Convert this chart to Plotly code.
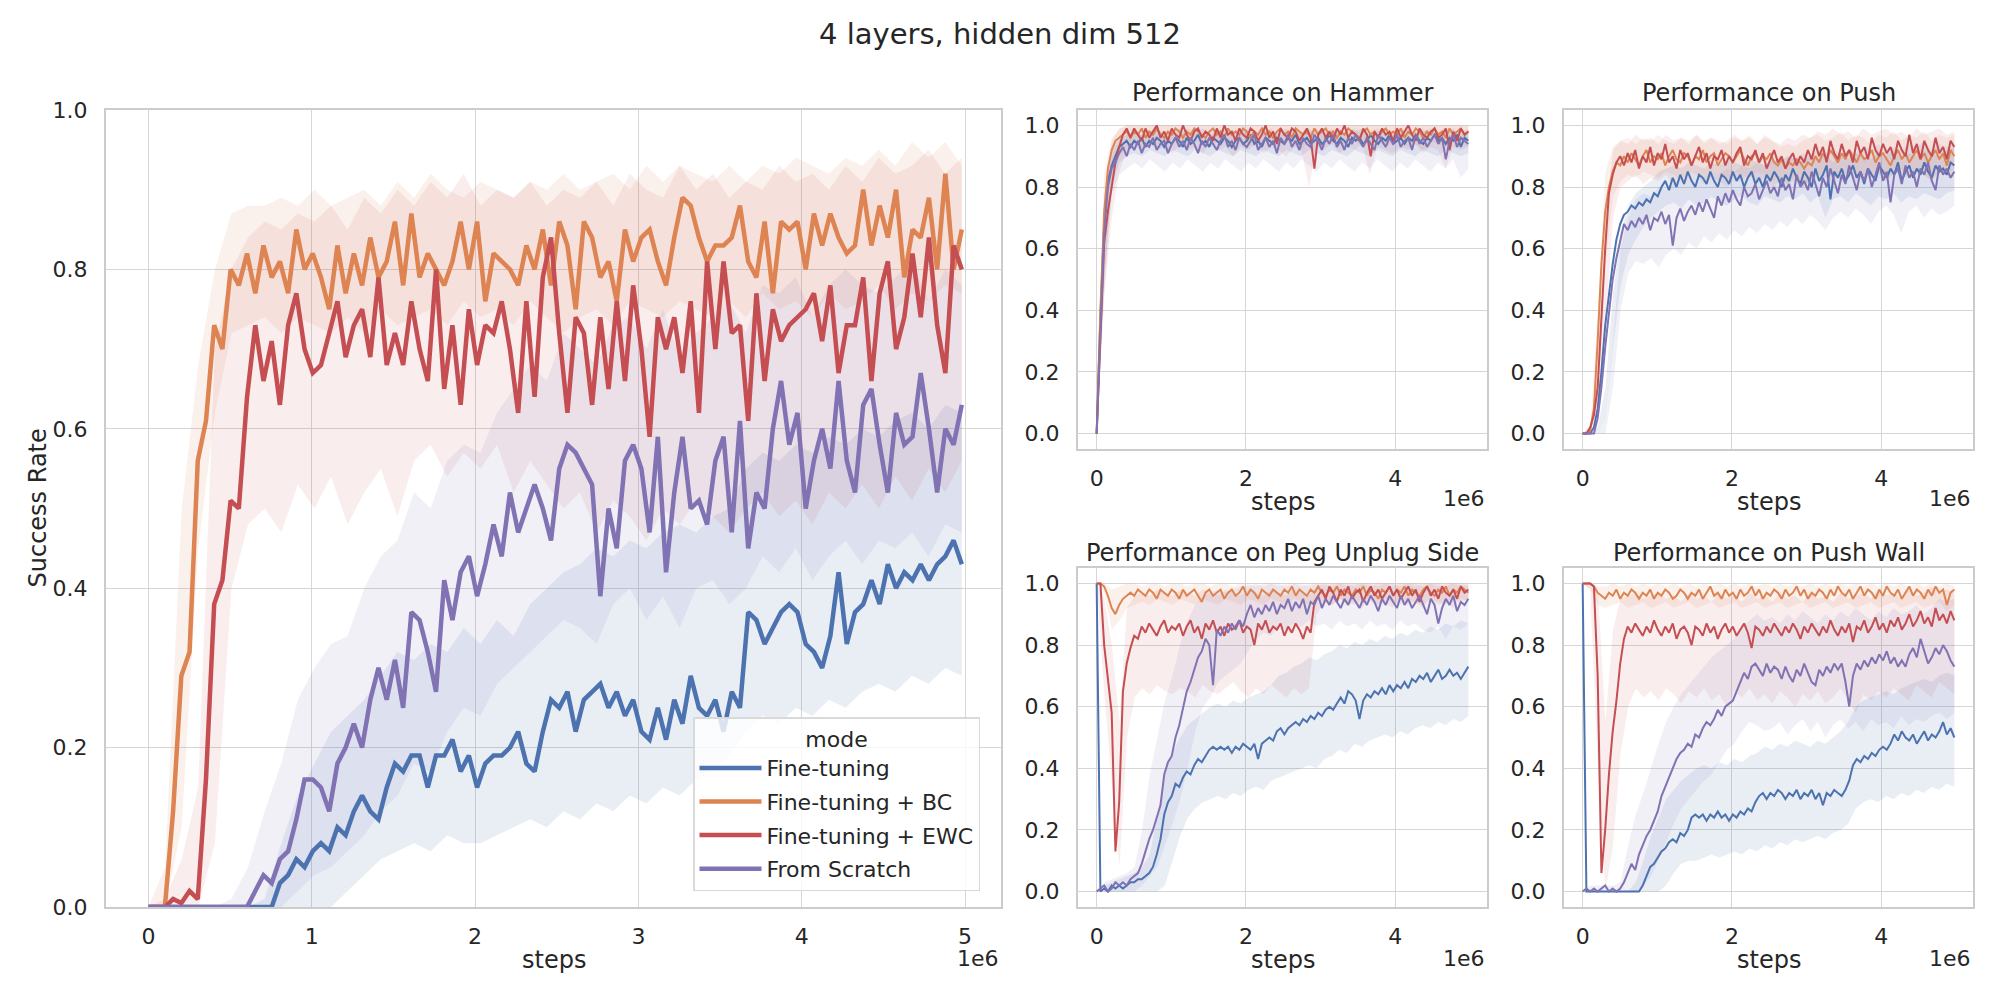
import numpy as np
import plotly.graph_objects as go

# evaluation steps (lines) and coarser grid for the confidence bands
steps = np.linspace(0, 4.98e6, 100)
band_steps = np.linspace(0, 4.98e6, 50)

modes = ["Fine-tuning", "Fine-tuning + BC", "Fine-tuning + EWC", "From Scratch"]
colors = ["#4C72B0", "#DD8452", "#C44E52", "#8172B3"]
band_colors = ["rgba(76,114,176,0.12)", "rgba(221,132,82,0.11)",
               "rgba(196,78,82,0.10)", "rgba(129,114,179,0.11)"]

# ---- main panel (all tasks) ----
all_ft = [0.00,0.00,0.00,0.00,0.00,0.00,0.00,0.00,0.00,0.00,
          0.00,0.00,0.00,0.00,0.00,0.00,0.03,0.04,0.06,0.05,
          0.07,0.08,0.07,0.10,0.09,0.12,0.14,0.12,0.11,0.15,
          0.18,0.17,0.19,0.19,0.15,0.19,0.19,0.21,0.17,0.19,
          0.15,0.18,0.19,0.19,0.20,0.22,0.18,0.17,0.22,0.26,
          0.25,0.27,0.22,0.26,0.27,0.28,0.25,0.27,0.24,0.26,
          0.22,0.21,0.25,0.21,0.26,0.23,0.29,0.25,0.24,0.26,
          0.22,0.27,0.25,0.37,0.36,0.33,0.35,0.37,0.38,0.37,
          0.33,0.32,0.30,0.34,0.42,0.33,0.37,0.38,0.41,0.38,
          0.43,0.40,0.42,0.41,0.43,0.41,0.43,0.44,0.46,0.43]
all_bc = [0.00,0.00,0.00,0.12,0.29,0.32,0.56,0.61,0.73,0.70,
          0.80,0.78,0.82,0.77,0.83,0.79,0.81,0.77,0.85,0.80,
          0.82,0.79,0.75,0.83,0.77,0.82,0.78,0.84,0.79,0.81,
          0.86,0.78,0.87,0.79,0.82,0.80,0.78,0.81,0.86,0.80,
          0.86,0.76,0.82,0.81,0.80,0.78,0.83,0.80,0.85,0.78,
          0.86,0.83,0.75,0.86,0.84,0.79,0.81,0.76,0.85,0.81,
          0.84,0.85,0.81,0.78,0.84,0.89,0.88,0.84,0.81,0.83,
          0.83,0.84,0.88,0.81,0.79,0.86,0.77,0.86,0.85,0.86,
          0.80,0.87,0.83,0.87,0.84,0.82,0.83,0.90,0.83,0.88,
          0.84,0.90,0.79,0.85,0.84,0.89,0.80,0.92,0.80,0.85]
all_ewc = [0.00,0.00,0.00,0.01,0.005,0.02,0.01,0.16,0.38,0.41,
           0.51,0.50,0.64,0.73,0.66,0.71,0.63,0.73,0.77,0.70,
           0.67,0.68,0.72,0.76,0.69,0.73,0.75,0.69,0.79,0.68,
           0.72,0.68,0.76,0.70,0.66,0.80,0.65,0.73,0.63,0.75,
           0.68,0.73,0.72,0.76,0.70,0.62,0.76,0.64,0.79,0.84,
           0.72,0.62,0.74,0.72,0.63,0.74,0.65,0.76,0.66,0.78,
           0.70,0.59,0.74,0.70,0.74,0.67,0.76,0.62,0.81,0.70,
           0.81,0.72,0.73,0.61,0.77,0.66,0.75,0.71,0.73,0.74,
           0.75,0.77,0.71,0.78,0.67,0.73,0.73,0.79,0.66,0.77,
           0.81,0.70,0.74,0.82,0.74,0.84,0.73,0.67,0.83,0.80]
all_fs = [0.00,0.00,0.00,0.00,0.00,0.00,0.00,0.00,0.00,0.00,
          0.00,0.00,0.00,0.02,0.04,0.03,0.06,0.07,0.11,0.16,
          0.16,0.15,0.12,0.18,0.20,0.23,0.20,0.26,0.30,0.26,
          0.31,0.25,0.37,0.36,0.32,0.27,0.41,0.36,0.42,0.44,
          0.39,0.43,0.48,0.44,0.52,0.47,0.50,0.53,0.50,0.46,
          0.55,0.58,0.57,0.55,0.53,0.39,0.50,0.45,0.56,0.58,
          0.55,0.47,0.59,0.42,0.52,0.59,0.50,0.51,0.48,0.56,
          0.59,0.47,0.61,0.45,0.52,0.50,0.60,0.66,0.58,0.62,
          0.50,0.56,0.60,0.55,0.66,0.56,0.52,0.63,0.65,0.58,
          0.52,0.62,0.58,0.59,0.67,0.60,0.52,0.60,0.58,0.63]

all_ft_lo = [0.00,0.00,0.00,0.00,0.00,0.00,0.00,0.00,0.00,0.00,
             0.00,0.00,0.02,0.04,0.06,0.07,0.08,0.07,0.09,0.08,
             0.08,0.09,0.10,0.11,0.10,0.12,0.11,0.13,0.12,0.14,
             0.13,0.15,0.14,0.16,0.17,0.19,0.22,0.24,0.23,0.25,
             0.24,0.26,0.25,0.27,0.28,0.27,0.29,0.28,0.30,0.29]
all_ft_hi = [0.00,0.00,0.00,0.00,0.00,0.00,0.00,0.01,0.08,0.14,
             0.18,0.22,0.24,0.26,0.29,0.32,0.31,0.33,0.32,0.35,
             0.33,0.36,0.34,0.38,0.40,0.42,0.43,0.45,0.44,0.46,
             0.45,0.47,0.48,0.47,0.49,0.50,0.55,0.57,0.56,0.58,
             0.57,0.59,0.58,0.60,0.59,0.61,0.62,0.60,0.63,0.62]
all_bc_lo = [0.00,0.00,0.10,0.45,0.62,0.72,0.73,0.74,0.72,0.74,
             0.73,0.72,0.74,0.72,0.75,0.73,0.74,0.75,0.73,0.76,
             0.74,0.75,0.73,0.76,0.74,0.72,0.74,0.75,0.73,0.76,
             0.75,0.74,0.76,0.75,0.74,0.76,0.74,0.77,0.75,0.76,
             0.74,0.77,0.75,0.76,0.78,0.75,0.77,0.76,0.78,0.77]
all_bc_hi = [0.00,0.05,0.50,0.68,0.80,0.87,0.88,0.88,0.89,0.88,
             0.90,0.88,0.89,0.90,0.88,0.91,0.89,0.92,0.90,0.89,
             0.91,0.90,0.89,0.91,0.90,0.92,0.90,0.91,0.92,0.90,
             0.93,0.91,0.93,0.92,0.91,0.93,0.91,0.93,0.92,0.94,
             0.93,0.92,0.94,0.93,0.95,0.93,0.96,0.94,0.96,0.93]
all_ewc_lo = [0.00,0.00,0.00,0.00,0.08,0.40,0.48,0.50,0.47,0.53,
              0.50,0.54,0.48,0.52,0.55,0.49,0.56,0.58,0.54,0.57,
              0.55,0.58,0.52,0.56,0.53,0.50,0.52,0.47,0.51,0.49,
              0.46,0.50,0.48,0.51,0.49,0.47,0.50,0.52,0.49,0.51,
              0.48,0.52,0.50,0.53,0.50,0.54,0.51,0.55,0.52,0.56]
all_ewc_hi = [0.00,0.01,0.06,0.15,0.70,0.80,0.84,0.86,0.85,0.87,
              0.86,0.88,0.85,0.89,0.87,0.90,0.88,0.91,0.89,0.92,
              0.88,0.90,0.89,0.91,0.88,0.90,0.89,0.91,0.88,0.92,
              0.90,0.89,0.93,0.90,0.92,0.89,0.91,0.90,0.93,0.91,
              0.92,0.90,0.93,0.91,0.94,0.92,0.93,0.95,0.92,0.94]
all_fs_lo = [0.00,0.00,0.00,0.00,0.00,0.00,0.00,0.00,0.00,0.02,
             0.04,0.05,0.07,0.09,0.12,0.14,0.18,0.17,0.22,0.25,
             0.24,0.28,0.30,0.32,0.34,0.36,0.35,0.33,0.38,0.40,
             0.36,0.39,0.35,0.40,0.41,0.38,0.40,0.44,0.42,0.45,
             0.41,0.44,0.46,0.43,0.46,0.45,0.47,0.44,0.48,0.47]
all_fs_hi = [0.00,0.00,0.00,0.00,0.00,0.01,0.05,0.12,0.18,0.26,
             0.30,0.33,0.34,0.40,0.44,0.46,0.52,0.50,0.56,0.58,
             0.57,0.62,0.65,0.68,0.66,0.72,0.70,0.68,0.73,0.74,
             0.70,0.75,0.69,0.72,0.74,0.76,0.72,0.78,0.77,0.79,
             0.74,0.78,0.80,0.78,0.77,0.79,0.81,0.76,0.80,0.78]

# ---- Hammer ----
ham_ft = [0.00,0.38,0.68,0.82,0.87,0.90,0.93,0.94,0.95,0.93,
          0.95,0.94,0.96,0.93,0.95,0.94,0.96,0.95,0.93,0.95,
          0.94,0.96,0.95,0.93,0.96,0.94,0.95,0.97,0.94,0.95,
          0.93,0.96,0.95,0.94,0.96,0.95,0.93,0.95,0.96,0.94,
          0.95,0.97,0.94,0.95,0.93,0.96,0.95,0.94,0.96,0.95,
          0.94,0.96,0.95,0.97,0.94,0.95,0.96,0.94,0.95,0.96,
          0.94,0.95,0.97,0.95,0.94,0.96,0.95,0.93,0.96,0.95,
          0.96,0.94,0.95,0.97,0.95,0.94,0.96,0.95,0.97,0.94,
          0.95,0.96,0.94,0.96,0.95,0.97,0.95,0.94,0.96,0.95,
          0.97,0.95,0.96,0.94,0.96,0.95,0.97,0.93,0.96,0.95]
ham_bc = [0.00,0.40,0.72,0.86,0.92,0.95,0.96,0.97,0.98,0.96,
          0.98,0.97,0.99,0.96,0.98,0.97,0.99,0.97,0.96,0.98,
          0.97,0.99,0.98,0.96,0.98,0.97,0.99,0.98,0.97,0.96,
          0.98,0.99,0.97,0.98,0.96,0.99,0.97,0.98,0.97,0.99,
          0.98,0.96,0.98,0.97,0.99,0.97,0.98,0.96,0.98,0.99,
          0.97,0.98,0.96,0.99,0.98,0.97,0.98,0.96,0.99,0.97,
          0.98,0.99,0.97,0.98,0.96,0.98,0.97,0.99,0.98,0.97,
          0.96,0.98,0.99,0.97,0.98,0.96,0.98,0.99,0.97,0.98,
          0.97,0.99,0.96,0.98,0.97,0.99,0.98,0.96,0.98,0.97,
          0.99,0.97,0.98,0.96,0.99,0.97,0.98,0.99,0.97,0.98]
ham_ewc = [0.00,0.30,0.62,0.72,0.80,0.88,0.93,0.97,0.99,0.96,
           0.99,0.97,0.95,0.99,0.96,0.98,1.00,0.96,0.98,0.95,
           0.99,0.97,0.96,1.00,0.97,0.95,0.98,0.99,0.96,0.98,
           0.97,0.95,0.99,0.96,1.00,0.97,0.98,0.95,0.99,0.97,
           0.96,0.99,0.98,0.95,0.97,1.00,0.96,0.98,0.94,0.99,
           0.97,0.96,0.99,0.98,0.95,0.97,0.99,0.96,0.86,0.97,
           0.99,0.96,0.98,0.95,0.99,0.97,1.00,0.96,0.98,0.97,
           0.95,0.99,0.97,0.90,0.98,0.96,0.99,0.97,0.98,0.95,
           0.99,0.96,0.98,1.00,0.97,0.95,0.99,0.97,0.96,0.98,
           0.99,0.96,0.97,0.99,0.92,0.98,0.95,0.99,0.97,0.98]
ham_fs = [0.00,0.36,0.65,0.80,0.86,0.88,0.91,0.93,0.90,0.94,
          0.92,0.95,0.91,0.94,0.93,0.96,0.92,0.94,0.95,0.91,
          0.94,0.96,0.93,0.95,0.92,0.96,0.94,0.91,0.95,0.93,
          0.96,0.94,0.92,0.95,0.97,0.93,0.95,0.92,0.96,0.94,
          0.93,0.95,0.97,0.92,0.94,0.96,0.93,0.95,0.91,0.96,
          0.94,0.97,0.93,0.95,0.92,0.96,0.94,0.93,0.97,0.95,
          0.92,0.96,0.94,0.97,0.93,0.95,0.92,0.96,0.94,0.97,
          0.95,0.93,0.96,0.94,0.92,0.97,0.95,0.93,0.96,0.94,
          0.97,0.93,0.95,0.96,0.92,0.97,0.94,0.96,0.93,0.95,
          0.97,0.94,0.96,0.89,0.95,0.97,0.93,0.96,0.95,0.94]

ham_ft_lo = [0.00,0.50,0.80,0.88,0.90,0.91,0.90,0.92,0.91,0.90,
             0.92,0.91,0.90,0.92,0.91,0.90,0.92,0.91,0.90,0.92,
             0.91,0.90,0.92,0.91,0.90,0.92,0.91,0.90,0.92,0.91,
             0.90,0.92,0.91,0.90,0.92,0.91,0.90,0.92,0.91,0.90,
             0.92,0.91,0.90,0.92,0.91,0.90,0.92,0.91,0.90,0.91]
ham_ft_hi = [0.00,0.75,0.92,0.96,0.97,0.98,0.97,0.98,0.99,0.97,
             0.98,0.99,0.97,0.98,0.99,0.97,0.98,0.99,0.97,0.98,
             0.99,0.97,0.98,0.99,0.97,0.98,0.99,0.97,0.98,0.99,
             0.97,0.98,0.99,0.97,0.98,0.99,0.97,0.98,0.99,0.97,
             0.98,0.99,0.97,0.98,0.99,0.97,0.98,0.99,0.97,0.98]
ham_bc_lo = [0.00,0.50,0.82,0.90,0.93,0.94,0.93,0.95,0.94,0.93,
             0.95,0.94,0.93,0.95,0.94,0.93,0.95,0.94,0.92,0.95,
             0.94,0.93,0.95,0.94,0.93,0.95,0.94,0.92,0.95,0.94,
             0.93,0.95,0.94,0.93,0.95,0.93,0.94,0.95,0.93,0.94,
             0.95,0.93,0.94,0.92,0.95,0.94,0.93,0.95,0.94,0.93]
ham_bc_hi = [0.00,0.85,0.96,0.99,1.00,1.00,1.00,1.00,1.00,1.00,
             1.00,1.00,1.00,1.00,1.00,1.00,1.00,1.00,1.00,1.00,
             1.00,1.00,1.00,1.00,1.00,1.00,1.00,1.00,1.00,1.00,
             1.00,1.00,1.00,1.00,1.00,1.00,1.00,1.00,1.00,1.00,
             1.00,1.00,1.00,1.00,1.00,1.00,1.00,1.00,1.00,1.00]
ham_ewc_lo = [0.00,0.45,0.70,0.85,0.92,0.93,0.92,0.94,0.92,0.93,
              0.91,0.94,0.92,0.93,0.91,0.94,0.92,0.93,0.90,0.93,
              0.92,0.94,0.91,0.93,0.92,0.90,0.93,0.92,0.80,0.93,
              0.92,0.94,0.91,0.93,0.92,0.94,0.84,0.93,0.92,0.91,
              0.93,0.92,0.94,0.91,0.93,0.92,0.86,0.93,0.92,0.93]
ham_ewc_hi = [0.00,0.78,0.95,0.99,1.00,1.00,1.00,1.00,1.00,1.00,
              1.00,1.00,1.00,1.00,1.00,1.00,1.00,1.00,1.00,1.00,
              1.00,1.00,1.00,1.00,1.00,1.00,1.00,1.00,1.00,1.00,
              1.00,1.00,1.00,1.00,1.00,1.00,1.00,1.00,1.00,1.00,
              1.00,1.00,1.00,1.00,1.00,1.00,1.00,1.00,1.00,1.00]
ham_fs_lo = [0.00,0.45,0.78,0.84,0.86,0.88,0.86,0.89,0.87,0.85,
             0.88,0.86,0.89,0.87,0.85,0.88,0.86,0.89,0.87,0.85,
             0.88,0.86,0.89,0.87,0.85,0.88,0.86,0.89,0.87,0.85,
             0.88,0.86,0.89,0.87,0.85,0.88,0.86,0.89,0.87,0.85,
             0.88,0.86,0.89,0.87,0.85,0.88,0.86,0.89,0.83,0.86]
ham_fs_hi = [0.00,0.72,0.90,0.95,0.97,0.98,0.97,0.98,0.99,0.97,
             0.98,0.97,0.99,0.98,0.97,0.98,0.99,0.97,0.98,0.99,
             0.97,0.98,0.99,0.97,0.98,0.99,0.97,0.98,0.99,0.97,
             0.98,0.99,0.97,0.98,0.99,0.97,0.98,0.99,0.97,0.98,
             0.99,0.97,0.98,0.99,0.97,0.98,0.99,0.97,0.98,0.99]

# ---- Push ----
push_ft = [0.00,0.00,0.00,0.02,0.08,0.20,0.35,0.45,0.55,0.63,
           0.68,0.71,0.72,0.74,0.73,0.75,0.74,0.76,0.75,0.78,
           0.77,0.80,0.82,0.79,0.83,0.80,0.84,0.81,0.85,0.82,
           0.80,0.84,0.83,0.81,0.85,0.82,0.80,0.84,0.83,0.81,
           0.85,0.82,0.84,0.80,0.83,0.85,0.81,0.83,0.80,0.84,
           0.82,0.85,0.83,0.80,0.84,0.82,0.86,0.83,0.81,0.85,
           0.83,0.80,0.86,0.82,0.84,0.87,0.76,0.85,0.83,0.86,
           0.82,0.84,0.87,0.83,0.85,0.81,0.86,0.84,0.82,0.87,
           0.85,0.83,0.86,0.84,0.88,0.82,0.85,0.87,0.83,0.86,
           0.84,0.88,0.85,0.83,0.87,0.85,0.86,0.84,0.88,0.87]
push_bc = [0.00,0.00,0.01,0.08,0.30,0.55,0.72,0.80,0.85,0.88,
           0.87,0.90,0.88,0.91,0.89,0.87,0.90,0.92,0.88,0.90,
           0.89,0.91,0.87,0.90,0.92,0.89,0.88,0.91,0.90,0.87,
           0.90,0.89,0.92,0.88,0.90,0.91,0.87,0.89,0.91,0.90,
           0.88,0.90,0.92,0.89,0.87,0.90,0.91,0.88,0.90,0.89,
           0.91,0.88,0.87,0.89,0.86,0.88,0.87,0.89,0.88,0.86,
           0.88,0.87,0.90,0.88,0.91,0.89,0.92,0.90,0.88,0.91,
           0.89,0.92,0.90,0.88,0.91,0.89,0.90,0.92,0.88,0.90,
           0.91,0.89,0.87,0.90,0.92,0.89,0.91,0.88,0.90,0.92,
           0.89,0.91,0.88,0.90,0.92,0.89,0.91,0.87,0.92,0.90]
push_ewc = [0.00,0.00,0.02,0.06,0.15,0.40,0.60,0.78,0.84,0.88,
            0.90,0.87,0.91,0.88,0.92,0.86,0.90,0.88,0.93,0.87,
            0.91,0.89,0.94,0.88,0.90,0.86,0.92,0.89,0.91,0.87,
            0.90,0.93,0.88,0.91,0.86,0.90,0.89,0.92,0.87,0.90,
            0.88,0.91,0.93,0.87,0.90,0.89,0.92,0.88,0.91,0.86,
            0.89,0.92,0.88,0.90,0.86,0.89,0.91,0.87,0.90,0.88,
            0.92,0.89,0.94,0.90,0.93,0.88,0.95,0.91,0.89,0.94,
            0.90,0.92,0.88,0.95,0.91,0.93,0.89,0.96,0.92,0.90,
            0.94,0.91,0.93,0.89,0.95,0.92,0.90,0.97,0.91,0.94,
            0.89,0.95,0.92,0.90,0.96,0.91,0.93,0.89,0.95,0.93]
push_fs = [0.00,0.00,0.00,0.00,0.05,0.15,0.28,0.40,0.50,0.57,
           0.63,0.68,0.66,0.69,0.67,0.70,0.68,0.71,0.66,0.70,
           0.69,0.72,0.68,0.71,0.61,0.70,0.73,0.69,0.72,0.74,
           0.71,0.75,0.72,0.76,0.73,0.70,0.77,0.74,0.78,0.75,
           0.79,0.76,0.74,0.80,0.77,0.78,0.81,0.76,0.79,0.82,
           0.78,0.80,0.77,0.83,0.79,0.81,0.76,0.84,0.80,0.82,
           0.79,0.85,0.81,0.77,0.83,0.80,0.86,0.82,0.78,0.84,
           0.81,0.87,0.83,0.79,0.85,0.82,0.86,0.80,0.84,0.88,
           0.82,0.85,0.75,0.84,0.86,0.81,0.87,0.83,0.85,0.80,
           0.86,0.84,0.88,0.82,0.79,0.87,0.84,0.86,0.83,0.85]

push_ft_lo = [0.00,0.00,0.00,0.05,0.28,0.48,0.58,0.63,0.67,0.70,
              0.72,0.74,0.75,0.73,0.76,0.74,0.75,0.77,0.75,0.74,
              0.76,0.77,0.75,0.74,0.77,0.76,0.75,0.77,0.76,0.78,
              0.75,0.77,0.70,0.76,0.77,0.75,0.78,0.76,0.74,0.77,
              0.76,0.78,0.75,0.77,0.76,0.78,0.77,0.76,0.78,0.79]
push_ft_hi = [0.00,0.00,0.02,0.15,0.45,0.65,0.74,0.78,0.80,0.82,
              0.85,0.86,0.87,0.86,0.88,0.87,0.86,0.88,0.87,0.89,
              0.88,0.87,0.89,0.88,0.87,0.89,0.88,0.90,0.89,0.88,
              0.90,0.89,0.91,0.88,0.90,0.89,0.91,0.90,0.89,0.91,
              0.90,0.92,0.89,0.91,0.90,0.92,0.91,0.90,0.92,0.93]
push_bc_lo = [0.00,0.00,0.12,0.55,0.77,0.82,0.84,0.83,0.85,0.84,
              0.83,0.85,0.84,0.82,0.85,0.84,0.83,0.85,0.84,0.82,
              0.85,0.84,0.83,0.85,0.84,0.82,0.83,0.81,0.82,0.80,
              0.82,0.83,0.85,0.84,0.82,0.85,0.84,0.83,0.85,0.84,
              0.82,0.85,0.84,0.83,0.85,0.84,0.82,0.85,0.84,0.83]
push_bc_hi = [0.00,0.02,0.40,0.85,0.93,0.95,0.96,0.94,0.96,0.95,
              0.97,0.95,0.94,0.96,0.95,0.97,0.94,0.96,0.95,0.94,
              0.96,0.95,0.97,0.94,0.96,0.95,0.93,0.94,0.93,0.95,
              0.96,0.97,0.95,0.96,0.98,0.95,0.97,0.96,0.94,0.97,
              0.96,0.98,0.95,0.97,0.96,0.98,0.95,0.97,0.96,0.97]
push_ewc_lo = [0.00,0.00,0.05,0.35,0.70,0.80,0.82,0.84,0.81,0.83,
               0.82,0.84,0.80,0.83,0.82,0.84,0.81,0.83,0.82,0.80,
               0.83,0.82,0.84,0.81,0.83,0.80,0.82,0.81,0.83,0.80,
               0.82,0.84,0.83,0.81,0.84,0.85,0.82,0.84,0.83,0.85,
               0.82,0.84,0.86,0.83,0.85,0.84,0.82,0.85,0.84,0.86]
push_ewc_hi = [0.00,0.03,0.20,0.70,0.92,0.95,0.94,0.97,0.95,0.96,
               0.94,0.97,0.95,0.96,0.94,0.97,0.95,0.96,0.94,0.95,
               0.97,0.95,0.96,0.94,0.97,0.95,0.94,0.96,0.95,0.97,
               0.96,0.98,0.97,0.99,0.97,0.98,0.96,0.99,0.97,0.98,
               0.99,0.97,0.98,0.96,0.99,0.97,0.98,0.99,0.97,0.98]
push_fs_lo = [0.00,0.00,0.00,0.00,0.15,0.40,0.52,0.56,0.55,0.57,
              0.54,0.58,0.60,0.58,0.62,0.60,0.64,0.62,0.65,0.63,
              0.66,0.64,0.67,0.65,0.68,0.66,0.69,0.67,0.70,0.68,
              0.71,0.69,0.66,0.70,0.72,0.70,0.73,0.71,0.68,0.72,
              0.74,0.71,0.65,0.72,0.74,0.70,0.73,0.71,0.72,0.74]
push_fs_hi = [0.00,0.00,0.00,0.05,0.30,0.60,0.70,0.76,0.78,0.77,
              0.80,0.79,0.81,0.83,0.82,0.84,0.83,0.85,0.84,0.86,
              0.85,0.87,0.86,0.88,0.87,0.89,0.88,0.90,0.89,0.91,
              0.90,0.92,0.91,0.93,0.90,0.92,0.91,0.93,0.92,0.94,
              0.91,0.93,0.92,0.94,0.93,0.95,0.92,0.94,0.93,0.94]

# ---- Peg Unplug Side ----
peg_ft = [1.00,0.00,0.01,0.00,0.02,0.01,0.02,0.01,0.02,0.03,
          0.03,0.04,0.04,0.05,0.06,0.08,0.12,0.17,0.25,0.29,
          0.31,0.35,0.34,0.37,0.39,0.38,0.41,0.43,0.42,0.44,
          0.46,0.47,0.46,0.47,0.46,0.47,0.45,0.47,0.46,0.48,
          0.47,0.46,0.48,0.43,0.48,0.49,0.50,0.49,0.52,0.53,
          0.51,0.53,0.54,0.55,0.54,0.56,0.55,0.57,0.56,0.58,
          0.57,0.59,0.60,0.59,0.61,0.63,0.61,0.65,0.64,0.62,
          0.56,0.62,0.64,0.63,0.65,0.64,0.66,0.64,0.67,0.65,
          0.67,0.66,0.68,0.66,0.69,0.68,0.70,0.69,0.71,0.68,
          0.70,0.72,0.69,0.70,0.72,0.70,0.71,0.69,0.71,0.73]
peg_bc = [1.00,1.00,0.99,0.96,0.92,0.90,0.93,0.95,0.96,0.97,
          0.96,0.98,0.97,0.96,0.98,0.97,0.95,0.98,0.97,0.96,
          0.98,0.97,0.95,0.98,0.96,0.97,0.98,0.96,0.94,0.97,
          0.98,0.96,0.97,0.98,0.95,0.97,0.98,0.96,0.97,0.99,
          0.96,0.98,0.97,0.95,0.98,0.97,0.96,0.98,0.97,0.96,
          0.98,0.97,0.99,0.96,0.98,0.97,0.96,0.98,0.97,0.99,
          0.97,0.96,0.98,0.97,0.99,0.96,0.98,0.97,0.96,0.98,
          0.97,0.99,0.96,0.98,0.97,0.95,0.98,0.97,0.99,0.96,
          0.98,0.97,0.99,0.96,0.98,0.97,0.96,0.98,0.99,0.97,
          0.96,0.98,0.97,0.99,0.96,0.98,0.97,0.99,0.98,0.97]
peg_ewc = [1.00,1.00,0.80,0.70,0.58,0.13,0.29,0.65,0.74,0.79,
           0.83,0.82,0.86,0.84,0.87,0.85,0.83,0.86,0.88,0.84,
           0.86,0.85,0.87,0.83,0.86,0.88,0.84,0.86,0.82,0.87,
           0.85,0.88,0.84,0.86,0.83,0.87,0.85,0.86,0.88,0.84,
           0.86,0.85,0.80,0.87,0.85,0.88,0.84,0.86,0.85,0.87,
           0.83,0.86,0.84,0.87,0.85,0.82,0.86,0.84,0.94,0.96,
           0.98,0.95,0.99,0.97,0.94,0.98,0.96,0.99,0.95,0.97,
           0.98,0.94,0.97,0.99,0.96,0.98,0.95,0.97,0.99,0.96,
           0.98,0.95,0.97,0.99,0.96,0.98,0.94,0.97,0.99,0.96,
           0.98,0.95,0.99,0.97,0.96,0.98,0.95,0.99,0.97,0.98]
peg_fs = [0.00,0.01,0.02,0.00,0.01,0.03,0.02,0.03,0.02,0.04,
          0.05,0.06,0.09,0.13,0.17,0.20,0.24,0.28,0.38,0.42,
          0.44,0.50,0.54,0.60,0.65,0.68,0.72,0.76,0.78,0.82,
          0.80,0.67,0.85,0.83,0.86,0.84,0.87,0.85,0.88,0.86,
          0.90,0.93,0.89,0.92,0.90,0.93,0.91,0.94,0.90,0.93,
          0.92,0.95,0.91,0.94,0.92,0.95,0.90,0.94,0.93,0.96,
          0.92,0.95,0.93,0.96,0.94,0.92,0.95,0.93,0.96,0.94,
          0.92,0.95,0.93,0.96,0.94,0.91,0.95,0.93,0.96,0.94,
          0.92,0.96,0.93,0.95,0.92,0.94,0.96,0.93,0.90,0.95,
          0.93,0.87,0.92,0.95,0.93,0.96,0.91,0.94,0.93,0.95]

peg_ft_lo = [1.00,0.00,0.00,0.00,0.00,0.00,0.00,0.00,0.00,0.02,
             0.10,0.18,0.24,0.27,0.29,0.30,0.31,0.30,0.32,0.31,
             0.33,0.34,0.33,0.36,0.37,0.38,0.39,0.40,0.41,0.40,
             0.43,0.44,0.46,0.45,0.48,0.47,0.49,0.50,0.51,0.50,
             0.52,0.51,0.53,0.54,0.53,0.55,0.54,0.56,0.55,0.57]
peg_ft_hi = [1.00,0.02,0.03,0.04,0.05,0.06,0.08,0.12,0.25,0.38,
             0.45,0.50,0.54,0.56,0.58,0.60,0.61,0.60,0.62,0.61,
             0.63,0.64,0.65,0.67,0.70,0.71,0.73,0.74,0.76,0.75,
             0.77,0.78,0.80,0.79,0.81,0.80,0.82,0.81,0.83,0.82,
             0.84,0.83,0.85,0.84,0.86,0.85,0.87,0.86,0.88,0.87]
peg_bc_lo = [1.00,0.97,0.85,0.88,0.92,0.93,0.94,0.93,0.95,0.94,
             0.93,0.95,0.94,0.93,0.95,0.94,0.93,0.95,0.94,0.93,
             0.95,0.94,0.93,0.95,0.94,0.93,0.95,0.94,0.93,0.95,
             0.94,0.93,0.95,0.94,0.93,0.95,0.94,0.93,0.95,0.94,
             0.93,0.95,0.94,0.93,0.95,0.94,0.93,0.95,0.94,0.95]
peg_bc_hi = [1.00,1.00,0.98,0.99,1.00,1.00,0.99,1.00,1.00,0.99,
             1.00,1.00,0.99,1.00,1.00,0.99,1.00,1.00,0.99,1.00,
             1.00,0.99,1.00,1.00,0.99,1.00,1.00,0.99,1.00,1.00,
             0.99,1.00,1.00,0.99,1.00,1.00,0.99,1.00,1.00,0.99,
             1.00,1.00,0.99,1.00,1.00,0.99,1.00,1.00,0.99,1.00]
peg_ewc_lo = [1.00,0.65,0.35,0.08,0.50,0.63,0.66,0.64,0.67,0.65,
              0.64,0.66,0.65,0.63,0.67,0.65,0.64,0.66,0.68,0.65,
              0.63,0.66,0.64,0.67,0.65,0.63,0.66,0.64,0.66,0.90,
              0.94,0.93,0.95,0.93,0.94,0.92,0.95,0.93,0.94,0.92,
              0.95,0.93,0.94,0.92,0.95,0.93,0.94,0.92,0.95,0.94]
peg_ewc_hi = [1.00,0.95,0.80,0.55,0.92,0.96,0.97,0.96,0.98,0.97,
              0.96,0.98,0.97,0.96,0.98,0.97,0.96,0.98,0.97,0.96,
              0.98,0.97,0.96,0.98,0.97,0.96,0.98,0.97,0.96,0.99,
              1.00,1.00,1.00,1.00,1.00,1.00,1.00,1.00,1.00,1.00,
              1.00,1.00,1.00,1.00,1.00,1.00,1.00,1.00,1.00,1.00]
peg_fs_lo = [0.00,0.00,0.00,0.00,0.00,0.00,0.02,0.05,0.08,0.15,
             0.22,0.30,0.40,0.52,0.60,0.63,0.68,0.70,0.72,0.74,
             0.78,0.82,0.84,0.83,0.86,0.85,0.87,0.86,0.88,0.86,
             0.87,0.85,0.88,0.86,0.87,0.85,0.88,0.86,0.87,0.85,
             0.88,0.86,0.87,0.85,0.84,0.86,0.82,0.86,0.85,0.87]
peg_fs_hi = [0.00,0.03,0.04,0.05,0.06,0.08,0.20,0.38,0.50,0.62,
             0.70,0.80,0.88,0.93,0.96,0.97,0.98,0.97,0.98,0.99,
             0.99,1.00,0.99,1.00,1.00,0.99,1.00,1.00,0.99,1.00,
             1.00,0.99,1.00,1.00,0.99,1.00,1.00,0.99,1.00,1.00,
             0.99,1.00,1.00,0.99,1.00,1.00,0.99,1.00,1.00,0.99]

# ---- Push Wall ----
wall_ft = [1.00,0.00,0.00,0.00,0.00,0.00,0.00,0.00,0.00,0.00,
           0.00,0.00,0.00,0.00,0.00,0.00,0.02,0.05,0.08,0.09,
           0.11,0.13,0.14,0.16,0.17,0.16,0.19,0.18,0.20,0.24,
           0.25,0.24,0.25,0.23,0.25,0.24,0.26,0.24,0.25,0.23,
           0.25,0.24,0.26,0.25,0.27,0.26,0.29,0.31,0.32,0.30,
           0.32,0.31,0.33,0.32,0.30,0.32,0.31,0.33,0.30,0.32,
           0.31,0.33,0.30,0.32,0.28,0.32,0.31,0.33,0.32,0.31,
           0.33,0.36,0.41,0.43,0.42,0.44,0.43,0.45,0.44,0.46,
           0.47,0.46,0.48,0.51,0.49,0.52,0.50,0.49,0.51,0.48,
           0.50,0.52,0.49,0.51,0.50,0.52,0.55,0.51,0.53,0.50]
wall_bc = [1.00,1.00,1.00,0.99,0.97,0.96,0.95,0.97,0.96,0.98,
           0.95,0.97,0.96,0.98,0.97,0.95,0.97,0.96,0.98,0.95,
           0.97,0.96,0.98,0.97,0.95,0.96,0.98,0.97,0.95,0.97,
           0.96,0.98,0.95,0.97,0.99,0.96,0.97,0.95,0.98,0.96,
           0.97,0.95,0.98,0.96,0.97,0.99,0.96,0.98,0.95,0.97,
           0.96,0.98,0.97,0.95,0.98,0.96,0.97,0.99,0.96,0.98,
           0.95,0.97,0.96,0.98,0.97,0.95,0.98,0.96,0.99,0.97,
           0.96,0.98,0.95,0.97,0.99,0.96,0.98,0.97,0.95,0.98,
           0.96,0.99,0.97,0.96,0.98,0.95,0.97,0.99,0.96,0.98,
           0.97,0.95,0.98,0.96,0.99,0.97,0.98,0.93,0.97,0.98]
wall_ewc = [1.00,1.00,1.00,0.99,0.70,0.06,0.20,0.38,0.52,0.62,
            0.74,0.82,0.86,0.84,0.87,0.85,0.83,0.86,0.84,0.88,
            0.85,0.83,0.86,0.84,0.87,0.82,0.85,0.86,0.84,0.80,
            0.86,0.85,0.83,0.87,0.84,0.86,0.82,0.85,0.87,0.84,
            0.86,0.83,0.85,0.87,0.84,0.79,0.86,0.85,0.83,0.86,
            0.84,0.87,0.85,0.83,0.86,0.84,0.87,0.85,0.82,0.86,
            0.84,0.87,0.85,0.83,0.86,0.84,0.88,0.85,0.83,0.86,
            0.84,0.87,0.81,0.86,0.85,0.88,0.84,0.86,0.89,0.85,
            0.87,0.84,0.88,0.86,0.89,0.85,0.87,0.90,0.86,0.88,
            0.91,0.87,0.89,0.86,0.92,0.88,0.90,0.87,0.91,0.88]
wall_fs = [0.00,0.01,0.00,0.01,0.00,0.01,0.02,0.00,0.01,0.00,
           0.01,0.03,0.06,0.09,0.07,0.12,0.15,0.18,0.20,0.23,
           0.26,0.31,0.34,0.37,0.40,0.43,0.45,0.46,0.48,0.47,
           0.51,0.50,0.53,0.55,0.54,0.56,0.59,0.57,0.60,0.61,
           0.62,0.65,0.68,0.71,0.69,0.73,0.74,0.72,0.70,0.74,
           0.71,0.73,0.72,0.69,0.73,0.70,0.68,0.72,0.70,0.74,
           0.71,0.68,0.67,0.72,0.70,0.73,0.71,0.74,0.72,0.74,
           0.68,0.60,0.70,0.74,0.72,0.75,0.73,0.76,0.74,0.77,
           0.75,0.78,0.74,0.76,0.73,0.75,0.73,0.77,0.79,0.76,
           0.82,0.78,0.74,0.76,0.79,0.77,0.80,0.78,0.75,0.73]

wall_ft_lo = [1.00,0.00,0.00,0.00,0.00,0.00,0.00,0.00,0.00,0.00,
              0.00,0.02,0.06,0.09,0.10,0.10,0.11,0.12,0.11,0.12,
              0.13,0.12,0.14,0.13,0.15,0.14,0.16,0.15,0.17,0.16,
              0.17,0.18,0.17,0.19,0.20,0.22,0.27,0.29,0.30,0.29,
              0.31,0.30,0.32,0.31,0.33,0.32,0.34,0.33,0.35,0.34]
wall_ft_hi = [1.00,0.00,0.00,0.00,0.00,0.00,0.00,0.03,0.10,0.18,
              0.24,0.30,0.33,0.36,0.38,0.40,0.41,0.40,0.42,0.41,
              0.43,0.42,0.44,0.45,0.47,0.46,0.48,0.47,0.49,0.48,
              0.47,0.49,0.48,0.50,0.52,0.55,0.60,0.62,0.63,0.64,
              0.65,0.64,0.66,0.67,0.68,0.69,0.68,0.70,0.71,0.70]
wall_bc_lo = [1.00,0.98,0.93,0.92,0.93,0.94,0.92,0.93,0.94,0.92,
              0.93,0.94,0.92,0.93,0.94,0.92,0.93,0.94,0.92,0.93,
              0.94,0.92,0.93,0.94,0.92,0.93,0.94,0.92,0.93,0.94,
              0.92,0.93,0.94,0.92,0.93,0.94,0.92,0.93,0.94,0.92,
              0.93,0.94,0.92,0.93,0.94,0.92,0.93,0.94,0.91,0.93]
wall_bc_hi = [1.00,1.00,0.99,0.99,1.00,0.99,1.00,0.99,1.00,0.99,
              1.00,0.99,1.00,0.99,1.00,0.99,1.00,0.99,1.00,0.99,
              1.00,0.99,1.00,0.99,1.00,0.99,1.00,0.99,1.00,0.99,
              1.00,0.99,1.00,0.99,1.00,0.99,1.00,0.99,1.00,0.99,
              1.00,0.99,1.00,0.99,1.00,0.99,1.00,0.99,1.00,0.99]
wall_ewc_lo = [1.00,0.98,0.40,0.00,0.15,0.45,0.60,0.66,0.63,0.65,
               0.62,0.66,0.64,0.61,0.65,0.63,0.66,0.62,0.64,0.60,
               0.65,0.63,0.66,0.62,0.64,0.61,0.65,0.63,0.60,0.64,
               0.62,0.65,0.61,0.63,0.66,0.62,0.58,0.64,0.62,0.65,
               0.63,0.66,0.64,0.62,0.67,0.65,0.63,0.68,0.66,0.64]
wall_ewc_hi = [1.00,1.00,0.98,0.55,0.85,0.95,0.96,0.97,0.95,0.96,
               0.97,0.95,0.96,0.94,0.97,0.95,0.96,0.94,0.97,0.95,
               0.96,0.94,0.97,0.95,0.96,0.94,0.97,0.95,0.96,0.94,
               0.97,0.95,0.96,0.94,0.97,0.95,0.96,0.97,0.95,0.98,
               0.96,0.97,0.95,0.98,0.96,0.97,0.99,0.97,0.98,0.97]
wall_fs_lo = [0.00,0.00,0.00,0.00,0.00,0.00,0.00,0.00,0.02,0.05,
              0.10,0.16,0.22,0.27,0.30,0.33,0.36,0.38,0.42,0.46,
              0.48,0.52,0.55,0.54,0.52,0.53,0.55,0.51,0.54,0.56,
              0.52,0.55,0.50,0.54,0.56,0.53,0.55,0.52,0.56,0.54,
              0.55,0.53,0.57,0.54,0.56,0.55,0.57,0.58,0.56,0.58]
wall_fs_hi = [0.00,0.02,0.02,0.02,0.02,0.03,0.15,0.25,0.32,0.40,
              0.48,0.55,0.60,0.64,0.67,0.70,0.73,0.76,0.78,0.80,
              0.82,0.86,0.88,0.90,0.88,0.89,0.87,0.90,0.88,0.91,
              0.89,0.87,0.90,0.88,0.91,0.89,0.92,0.90,0.88,0.91,
              0.89,0.92,0.90,0.91,0.93,0.90,0.92,0.95,0.94,0.95]

TXT = "#262626"
GRID = "#d6d6d6"
EDGE = "#cccccc"
FONT = "DejaVu Sans"

panels = [
    # (axis suffix, lines, lows, highs, line width)
    ("", [all_ft, all_bc, all_ewc, all_fs],
     [all_ft_lo, all_bc_lo, all_ewc_lo, all_fs_lo],
     [all_ft_hi, all_bc_hi, all_ewc_hi, all_fs_hi], 4.5),
    ("2", [ham_ft, ham_bc, ham_ewc, ham_fs],
     [ham_ft_lo, ham_bc_lo, ham_ewc_lo, ham_fs_lo],
     [ham_ft_hi, ham_bc_hi, ham_ewc_hi, ham_fs_hi], 2),
    ("3", [push_ft, push_bc, push_ewc, push_fs],
     [push_ft_lo, push_bc_lo, push_ewc_lo, push_fs_lo],
     [push_ft_hi, push_bc_hi, push_ewc_hi, push_fs_hi], 2),
    ("4", [peg_ft, peg_bc, peg_ewc, peg_fs],
     [peg_ft_lo, peg_bc_lo, peg_ewc_lo, peg_fs_lo],
     [peg_ft_hi, peg_bc_hi, peg_ewc_hi, peg_fs_hi], 2),
    ("5", [wall_ft, wall_bc, wall_ewc, wall_fs],
     [wall_ft_lo, wall_bc_lo, wall_ewc_lo, wall_fs_lo],
     [wall_ft_hi, wall_bc_hi, wall_ewc_hi, wall_fs_hi], 2),
]

fig = go.Figure()

for suf, lines, lows, highs, lw in panels:
    xa, ya = "x" + suf, "y" + suf
    # bands first
    for k in range(4):
        fig.add_trace(go.Scatter(x=band_steps, y=lows[k], mode="lines",
                                 line=dict(width=0, color=colors[k]),
                                 xaxis=xa, yaxis=ya, showlegend=False,
                                 hoverinfo="skip"))
        fig.add_trace(go.Scatter(x=band_steps, y=highs[k], mode="lines",
                                 line=dict(width=0, color=colors[k]),
                                 fill="tonexty", fillcolor=band_colors[k],
                                 xaxis=xa, yaxis=ya, showlegend=False,
                                 hoverinfo="skip"))
    for k in range(4):
        fig.add_trace(go.Scatter(x=steps, y=lines[k], mode="lines",
                                 name=modes[k], legendgroup=modes[k],
                                 line=dict(width=lw, color=colors[k]),
                                 xaxis=xa, yaxis=ya,
                                 showlegend=(suf == "")))


def x_axis(domain, rng, vals, anchor):
    return dict(domain=domain, range=rng, anchor=anchor, automargin=False,
                tickvals=[v * 1e6 for v in vals], ticktext=[str(v) for v in vals],
                showgrid=True, gridcolor=GRID, gridwidth=1.3,
                showline=True, mirror=True, linecolor=EDGE, linewidth=2,
                zeroline=False, ticks="", ticklabelstandoff=9,
                tickfont=dict(size=22, color=TXT, family=FONT))


def y_axis(domain, rng, anchor):
    return dict(domain=domain, range=rng, anchor=anchor, automargin=False,
                tickvals=[0, 0.2, 0.4, 0.6, 0.8, 1.0], tickformat=".1f",
                showgrid=True, gridcolor=GRID, gridwidth=1.3,
                showline=True, mirror=True, linecolor=EDGE, linewidth=2,
                zeroline=False, ticks="", ticklabelstandoff=12,
                tickfont=dict(size=22, color=TXT, family=FONT))


# domains are nudged by the page's 8px body margin
left_dom = [0.049, 0.4965]
mid_dom = [0.535, 0.7395]
right_dom = [0.778, 0.9825]
top_dom = [0.559, 0.898]
bot_dom = [0.101, 0.440]
full_dom = [0.101, 0.898]
sub_x = [-0.25e6, 5.23e6]
sub_y = [-0.05, 1.05]

fig.update_layout(
    width=2000, height=1000,
    margin=dict(l=0, r=0, t=0, b=0, autoexpand=False),
    paper_bgcolor="white", plot_bgcolor="white",
    font=dict(family=FONT, color=TXT),
    xaxis=x_axis(left_dom, [-0.26e6, 5.22e6], [0, 1, 2, 3, 4, 5], "y"),
    yaxis=y_axis(full_dom, [0, 1], "x"),
    xaxis2=x_axis(mid_dom, sub_x, [0, 2, 4], "y2"),
    yaxis2=y_axis(top_dom, sub_y, "x2"),
    xaxis3=x_axis(right_dom, sub_x, [0, 2, 4], "y3"),
    yaxis3=y_axis(top_dom, sub_y, "x3"),
    xaxis4=x_axis(mid_dom, sub_x, [0, 2, 4], "y4"),
    yaxis4=y_axis(bot_dom, sub_y, "x4"),
    xaxis5=x_axis(right_dom, sub_x, [0, 2, 4], "y5"),
    yaxis5=y_axis(bot_dom, sub_y, "x5"),
    showlegend=True,
    legend=dict(x=0.3425, y=0.291, xanchor="left", yanchor="top",
                bgcolor="rgba(255,255,255,0.8)", bordercolor="#d9d9d9",
                borderwidth=1.5, font=dict(size=22, color=TXT, family=FONT),
                title=dict(text="mode", side="top center",
                           font=dict(size=22, color=TXT, family=FONT)),
                tracegroupgap=2, itemwidth=62),
)

ann = []


def text(x, y, s, size, xanchor="center", angle=0):
    ann.append(dict(x=x, y=y, xref="paper", yref="paper", text=s, showarrow=False,
                    xanchor=xanchor, yanchor="middle", textangle=angle,
                    font=dict(size=size, color=TXT, family=FONT)))


text(0.496, 0.974, "4 layers, hidden dim 512", 29)
text(sum(mid_dom) / 2, 0.915, "Performance on Hammer", 24)
text(sum(right_dom) / 2, 0.915, "Performance on Push", 24)
text(sum(mid_dom) / 2, 0.455, "Performance on Peg Unplug Side", 24)
text(sum(right_dom) / 2, 0.455, "Performance on Push Wall", 24)
text(sum(left_dom) / 2, 0.048, "steps", 24)
text(sum(mid_dom) / 2, 0.506, "steps", 24)
text(sum(right_dom) / 2, 0.506, "steps", 24)
text(sum(mid_dom) / 2, 0.048, "steps", 24)
text(sum(right_dom) / 2, 0.048, "steps", 24)
text(left_dom[1], 0.050, "1e6", 22, "right")
text(mid_dom[1], 0.510, "1e6", 22, "right")
text(right_dom[1], 0.510, "1e6", 22, "right")
text(mid_dom[1], 0.050, "1e6", 22, "right")
text(right_dom[1], 0.050, "1e6", 22, "right")
text(0.015, 0.4995, "Success Rate", 24, angle=-90)
fig.update_layout(annotations=ann)

fig.write_html("out.html")
